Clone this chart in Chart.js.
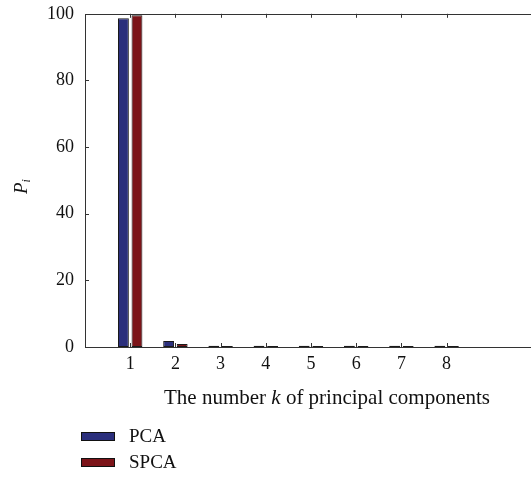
<!DOCTYPE html>
<html>
<head>
<meta charset="utf-8">
<script src="https://cdn.jsdelivr.net/npm/chart.js@4.4.1/dist/chart.umd.min.js"></script>
<style>
  html, body { margin: 0; padding: 0; background: #fff; overflow: hidden; }
  #wrap { position: relative; width: 560px; height: 479px; }
</style>
</head>
<body>
<div id="wrap"><canvas id="pcaChart" width="560" height="479"></canvas></div>
<script>
// values
var components = [1, 2, 3, 4, 5, 6, 7, 8];
var pcaValues = [98.7, 1.8, 0.35, 0.35, 0.35, 0.35, 0.35, 0.35];
var spcaValues = [99.6, 0.9, 0.3, 0.3, 0.3, 0.3, 0.3, 0.3];
var yTicks = [0, 20, 40, 60, 80, 100];

var serif = "'Liberation Serif', 'DejaVu Serif', serif";

function points(vals) {
    return components.map(function (k, i) { return { x: k, y: vals[i] }; });
}

// frame, inward tick marks, axis titles and the legend
var decorations = {
    id: 'decorations',
    afterDraw: function (chart) {
        var c = chart.ctx, a = chart.chartArea;
        var xs = chart.scales.x, ys = chart.scales.y;
        c.save();
        c.strokeStyle = '#333';
        c.lineWidth = 1;
        c.beginPath();
        c.rect(Math.round(a.left) + 0.5, Math.round(a.top) + 0.5, a.right - a.left, Math.round(a.bottom - a.top));
        c.stroke();

        c.beginPath();
        components.forEach(function (k) {
            var px = Math.round(xs.getPixelForValue(k)) + 0.5;
            c.moveTo(px, a.top); c.lineTo(px, a.top + 4);
            c.moveTo(px, a.bottom); c.lineTo(px, a.bottom - 4);
        });
        yTicks.forEach(function (v) {
            var py = Math.round(ys.getPixelForValue(v)) + 0.5;
            c.moveTo(a.left, py); c.lineTo(a.left + 4, py);
        });
        c.stroke();

        // y title: P with subscript i, rotated
        c.fillStyle = '#111';
        c.translate(27, 186);
        c.rotate(-Math.PI / 2);
        c.textBaseline = 'alphabetic';
        c.textAlign = 'left';
        c.font = 'italic 19px ' + serif;
        c.fillText('P', -8, 0);
        var pw = c.measureText('P').width;
        c.font = 'italic 12px ' + serif;
        c.fillText('i', -8 + pw, 3);
        c.setTransform(1, 0, 0, 1, 0, 0);

        // x title with italic k
        var parts = [
            ['The number ', '21px ' + serif],
            ['k', 'italic 21px ' + serif],
            [' of principal components', '21px ' + serif]
        ];
        var total = 0;
        parts.forEach(function (p) { c.font = p[1]; total += c.measureText(p[0]).width; });
        var tx = 327 - total / 2;
        c.textBaseline = 'middle';
        parts.forEach(function (p) {
            c.font = p[1];
            c.fillText(p[0], tx, 398);
            tx += c.measureText(p[0]).width;
        });

        // legend
        chart.data.datasets.forEach(function (ds, i) {
            var y = 432 + i * 26;
            c.fillStyle = ds.backgroundColor;
            c.fillRect(81, y, 34, 9);
            c.strokeStyle = '#111';
            c.strokeRect(81.5, y + 0.5, 33, 8);
            c.fillStyle = '#111';
            c.font = '19px ' + serif;
            c.textBaseline = 'middle';
            c.fillText(ds.label, 129, y + 5);
        });
        c.restore();
    }
};

var ctx = document.getElementById('pcaChart').getContext('2d');
var pcaChart = new Chart(ctx, {
    type: 'bar',
    data: {
        datasets: [{
            label: 'PCA',
            data: points(pcaValues),
            backgroundColor: '#2b2f7c',
            borderColor: '#1a1a1a',
            borderWidth: 1,
            borderSkipped: false
        }, {
            label: 'SPCA',
            data: points(spcaValues),
            backgroundColor: '#7c1419',
            borderColor: '#1a1a1a',
            borderWidth: 1,
            borderSkipped: false
        }]
    },
    options: {
        responsive: false,
        animation: false,
        devicePixelRatio: 1,
        categoryPercentage: 0.6,
        barPercentage: 0.8,
        layout: { padding: { top: 4, right: 23, left: 0, bottom: 0 } },
        plugins: {
            legend: { display: false },
            tooltip: { enabled: false }
        },
        scales: {
            x: {
                type: 'linear',
                offset: false,
                min: 0,
                max: 10,
                afterBuildTicks: function (scale) {
                    scale.ticks = components.map(function (k) { return { value: k }; });
                },
                afterFit: function (scale) { scale.height = 132; },
                grid: { display: false },
                border: { display: false },
                ticks: {
                    color: '#111',
                    padding: -2,
                    maxRotation: 0,
                    font: { family: serif, size: 18 }
                }
            },
            y: {
                min: 0,
                max: 100,
                afterBuildTicks: function (scale) {
                    scale.ticks = yTicks.map(function (v) { return { value: v }; });
                },
                afterFit: function (scale) { scale.width = 85; },
                grid: { display: false },
                border: { display: false },
                ticks: {
                    color: '#111',
                    padding: 3,
                    font: { family: serif, size: 18 }
                }
            }
        }
    },
    plugins: [decorations]
});
</script>
</body>
</html>
